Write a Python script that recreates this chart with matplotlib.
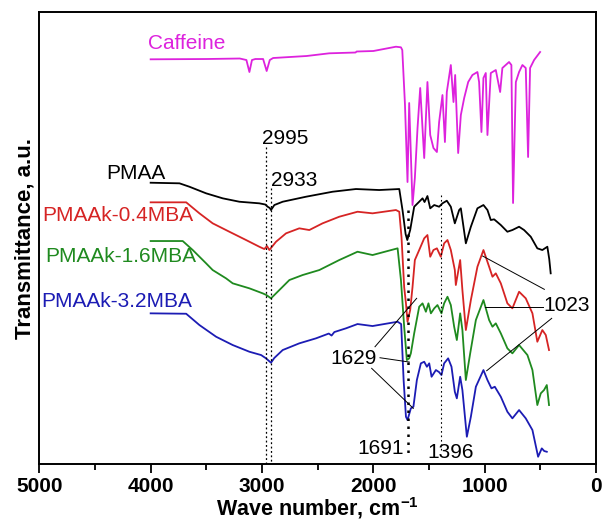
import matplotlib
matplotlib.use("Agg")
import matplotlib.pyplot as plt

plt.rcParams['font.family'] = ['Liberation Sans', 'DejaVu Sans']
plt.rcParams['mathtext.fontset'] = 'custom'
plt.rcParams['mathtext.rm'] = 'Liberation Sans:bold'
plt.rcParams['mathtext.it'] = 'Liberation Sans:bold'
plt.rcParams['mathtext.bf'] = 'Liberation Sans:bold'

# ---------------- data (wave number, arbitrary transmittance units) ----------------
caf_wn = [4000, 3500, 3200, 3140, 3113, 3090, 3060, 2990, 2958, 2930, 2900, 2600, 2396, 2160,
          2150, 2000, 1797, 1752, 1740, 1716, 1693, 1678, 1648, 1627, 1603, 1579, 1543,
          1514, 1489, 1460, 1429, 1409, 1379, 1357, 1340, 1304, 1280, 1265, 1238, 1214, 1184,
          1148, 1110, 1065, 1050, 1029, 1011, 990, 975, 945, 900, 861, 841, 781, 760, 745, 720,
          691, 661, 631, 610, 592, 556, 502]
caf_val = [404.7, 405, 405.5, 404, 392, 404, 405, 405, 393, 404, 406, 408, 410.7, 411.5,
           412.5, 413, 417.3, 416.7, 414, 360, 282, 361, 259, 286, 336, 376, 306,
           382, 329, 316, 312, 342, 369, 322, 372, 399, 362, 389, 311, 349, 366,
           382, 389, 392, 382, 332, 386, 391, 329, 391, 394, 372, 396, 402, 399, 261, 382,
           392, 399, 396, 307, 396, 404, 412]

pmaa_wn = [4000, 3741, 3652, 3502, 3353, 3203, 3024, 2970, 2949, 2930, 2919, 2889, 2814, 2605,
           2366, 2156, 1947, 1767, 1738, 1710, 1695, 1669, 1633, 1588, 1558, 1540, 1514,
           1489, 1453, 1409, 1379, 1340, 1304, 1268, 1229, 1214, 1169, 1124, 1065, 1011, 975,
           945, 915, 855, 796, 751, 691, 646, 586, 527, 482, 437, 420, 407]
pmaa_val = [281.3, 280.7, 277.3, 270.7, 265.7, 262.3, 260.7, 259.5, 257.3, 256, 254, 259, 262.3, 267.3,
            272.3, 275, 274, 275, 254, 230, 224, 234, 257.3, 262.3, 265.7, 262, 268,
            255.7, 259, 257.3, 260.7, 263.3, 257.3, 240.7, 254, 255.7, 220.7, 237.3, 255.7, 259, 254,
            244, 244.7, 239, 232.3, 234, 237.3, 234, 227.3, 215.7, 214, 217.3, 205, 190.7]

mba04_wn = [4000, 3681, 3562, 3443, 3293, 3143, 3024, 2979, 2955, 2934, 2874, 2784, 2665, 2575,
            2456, 2306, 2142, 2007, 1797, 1767, 1747, 1723, 1707, 1693, 1669, 1648, 1627, 1588,
            1543, 1514, 1489, 1460, 1429, 1394, 1364, 1334, 1304, 1268, 1259, 1220, 1200, 1169,
            1124, 1065, 1011, 960, 930, 900, 855, 796, 751, 691, 631, 571, 527, 482, 451, 422]
mba04_val = [261.7, 261.7, 250.7, 240.7, 232.3, 224, 217.3, 215, 218, 214, 222.3, 230.7, 235.7, 234,
             240.7, 247.3, 252.3, 250.7, 254, 252.3, 227, 177, 160.7, 142.3, 154, 177, 204, 214,
             225.7, 229, 207.3, 214, 215.7, 207.3, 220.7, 224, 214, 194, 179, 204, 174, 134,
             164, 197.3, 214, 197.3, 187.3, 190.7, 180.7, 160.7, 155.7, 172.3, 165.7, 150.7, 122.3, 134, 129, 114]

mba16_wn = [4000, 3712, 3622, 3502, 3443, 3323, 3263, 3113, 2994, 2960, 2919, 2844, 2754, 2635,
            2485, 2306, 2142, 2007, 1782, 1752, 1723, 1699, 1678, 1663, 1633, 1588, 1558, 1528,
            1505, 1483, 1453, 1424, 1388, 1364, 1334, 1304, 1274, 1250, 1220, 1200, 1169, 1130,
            1079, 1011, 960, 930, 900, 855, 796, 751, 691, 616, 571, 527, 496, 467, 442, 422]
mba16_val = [223, 223, 214, 200.7, 194, 185.7, 180.7, 175.7, 170.7, 169, 165.7, 174, 184, 189,
             194, 204, 212.3, 209, 215.7, 184, 137.3, 104, 105.7, 110.7, 130.7, 157.3, 160.7, 152.3,
             160.7, 150.7, 155.7, 159, 150.7, 160.7, 167.3, 159, 137.3, 124, 150.7, 134, 84, 110.7,
             144, 164, 144, 137.3, 140.7, 130.7, 115.7, 110.7, 119, 109, 94, 59, 70.7, 74, 79, 59]

mba32_wn = [4000, 3681, 3562, 3412, 3263, 3113, 3008, 2964, 2919, 2890, 2814, 2665, 2515, 2400,
            2375, 2350, 2246, 2142, 2007, 1782, 1750, 1728, 1707, 1693, 1663, 1640, 1609, 1573,
            1543, 1519, 1498, 1477, 1438, 1410, 1388, 1364, 1328, 1298, 1268, 1250, 1220, 1200,
            1160, 1124, 1079, 1011, 975, 939, 909, 855, 796, 751, 691, 631, 571, 520, 487, 465, 442]
mba32_val = [150.7, 150.3, 139, 127.3, 119, 112.3, 109, 105.7, 101.3, 106, 114, 120.7, 125.7, 130.5,
             128.5, 132, 135.7, 140, 138, 142.3, 140, 84, 47.3, 44, 55.7, 57.3, 84, 100.7,
             102.3, 97.3, 100.7, 87.3, 94, 92, 89, 100.7, 105.7, 97.3, 72.3, 65.7, 87.3, 74,
             27.3, 47.3, 77.3, 94, 84, 75.7, 77.3, 67.3, 52.3, 45.7, 54, 45.7, 34, 7.3, 15.7, 13, 12.3]

series_names = ["Caffeine", "PMAA", "PMAAk-0.4MBA", "PMAAk-1.6MBA", "PMAAk-3.2MBA"]
series_colors = ["#dd22dd", "#000000", "#d62424", "#1f8a1f", "#1c1cb4"]

peak_labels = ["2995", "2933", "1691", "1396", "1629", "1023"]
x_ticks = [5000, 4000, 3000, 2000, 1000, 0]

# ---------------- figure ----------------
fig = plt.figure(figsize=(6.03, 5.22), dpi=100)
ax = fig.add_axes([0.0652, 0.111, 0.9232, 0.866])

data = [(caf_wn, caf_val), (pmaa_wn, pmaa_val), (mba04_wn, mba04_val),
        (mba16_wn, mba16_val), (mba32_wn, mba32_val)]
for (w, v), c in zip(data, series_colors):
    ax.plot(w, v, color=c, lw=1.3, solid_joinstyle='round')

ax.set_xlim(5000, 0)
ax.set_ylim(0, 452)
ax.set_yticks([])
ax.set_xticks(x_ticks)
ax.set_xticks([4500, 3500, 2500, 1500, 500], minor=True)
ax.tick_params(axis='x', which='major', direction='out', length=6.5, width=1.3,
               labelsize=15, pad=3)
ax.tick_params(axis='x', which='minor', direction='out', length=4, width=1.3)
for lbl in ax.get_xticklabels():
    lbl.set_fontweight('bold')
for s in ax.spines.values():
    s.set_linewidth(1.4)

ax.set_xlabel(r"Wave number, cm$^{-1}$", fontsize=15.5, fontweight='bold', labelpad=-1)
ax.set_ylabel("Transmittance, a.u.", fontsize=16, fontweight='bold', labelpad=3)

# series labels
label_pos = [(4024, 421), (4402, 291), (4977, 249), (4946, 207.3), (4980, 162.3)]
for name, c, (x, y) in zip(series_names, series_colors, label_pos):
    ax.text(x, y, name, color=c, fontsize=15, ha='left', va='center')

# dotted reference lines
ax.plot([2962, 2962], [317, 0], color='black', ls=(0, (1.5, 2)), lw=0.9)
ax.plot([2918, 2918], [276, 0], color='black', ls=(0, (1.5, 2)), lw=0.9)
ax.plot([1691, 1691], [254, 6], color='black', ls=(0, (1, 2.2)), lw=1.8)
ax.plot([1388, 1388], [269, 12], color='black', ls=(0, (1.5, 2.5)), lw=0.8)

# peak labels
ax.text(3000, 326, peak_labels[0], fontsize=15, ha='left', va='center')
ax.text(2919, 284, peak_labels[1], fontsize=15, ha='left', va='center')
ax.text(1725, 16, peak_labels[2], fontsize=15, ha='right', va='center')
ax.text(1518, 12, peak_labels[3], fontsize=15, ha='left', va='center')
ax.text(1967, 106, peak_labels[4], fontsize=15, ha='right', va='center')
ax.text(476, 159, peak_labels[5], fontsize=15, ha='left', va='center')

# leader lines
for (x0, y0, x1, y1) in [(1985, 117.3, 1611, 165.7), (1940, 106.3, 1677, 102),
                         (2015, 95.7, 1641, 55.7),
                         (464, 174.7, 1018, 208), (473, 157.3, 997, 157.3),
                         (398, 145.7, 982, 93.3)]:
    ax.plot([x0, x1], [y0, y1], color='black', lw=0.7)

fig.savefig("out.png", dpi=100)
